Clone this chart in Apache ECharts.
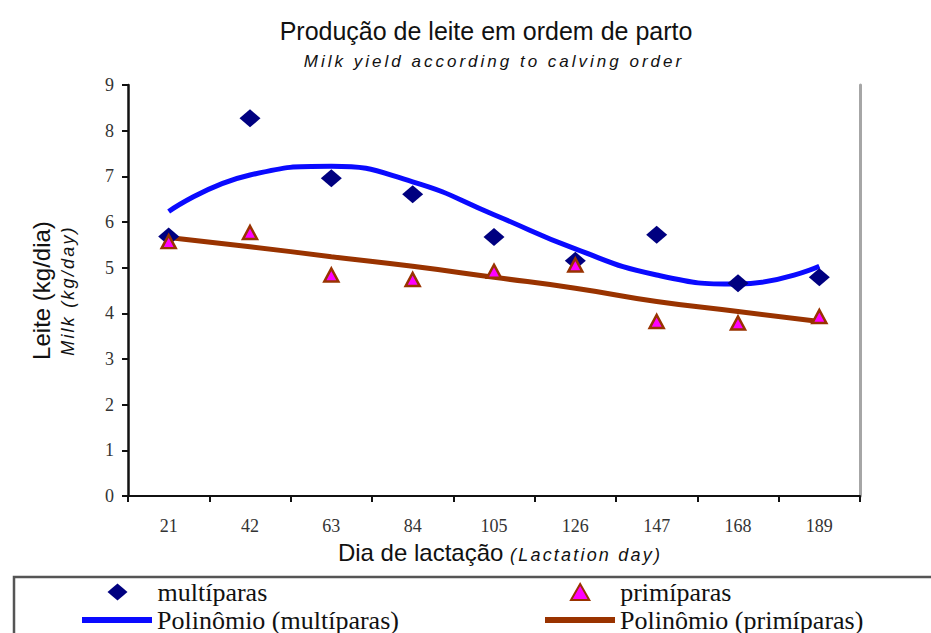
<!DOCTYPE html>
<html>
<head>
<meta charset="utf-8">
<script src="https://cdn.jsdelivr.net/npm/echarts@6/dist/echarts.min.js"></script>
<style>
  html, body { margin: 0; padding: 0; background: #fff; }
  #chart { width: 931px; height: 633px; }
  /* the italic English texts are letter-spaced in the original */
  #chart text[style*="italic"] { letter-spacing: 2.2px; }
  #chart text[style*="italic"][style*="17px"] { letter-spacing: 3px; }
</style>
</head>
<body>
<div id="chart"></div>
<script>
// Dia de lactação
const days = ['21', '42', '63', '84', '105', '126', '147', '168', '189'];
// Leite (kg/dia)
const multiparas = [5.68, 8.27, 6.96, 6.61, 5.67, 5.15, 5.72, 4.66, 4.79];
const primiparas = [5.57, 5.77, 4.84, 4.74, 4.92, 5.06, 3.82, 3.79, 3.93];
// linhas de tendência
const polyMulti = [6.23, 7.03, 7.22, 6.88, 6.16, 5.41, 4.84, 4.64, 5.03];
const polyPrim = [5.66, 5.46, 5.24, 5.03, 4.79, 4.55, 4.26, 4.04, 3.82];

const sans = "'Liberation Sans', Arial, sans-serif";
const serif = "'Liberation Serif', 'Times New Roman', serif";

const chart = echarts.init(document.getElementById('chart'), null, { renderer: 'svg' });

// one legend per entry so each can sit where the original puts it
function legendItem(name, icon, left, top, itemHeight) {
  return {
    left: left,
    top: top,
    padding: 0,
    itemWidth: 70,
    itemHeight: itemHeight,
    selectedMode: false,
    data: [{ name: name, icon: icon }],
    textStyle: { fontFamily: serif, fontSize: 26, color: '#111' },
  };
}

chart.setOption({
  animation: false,
  backgroundColor: '#fff',
  title: [
    {
      text: 'Produção de leite em ordem de parto',
      left: 486,
      top: 18,
      textAlign: 'center',
      padding: 0,
      textStyle: { fontFamily: sans, fontSize: 25, fontWeight: 'normal', color: '#111' },
    },
    {
      text: 'Milk yield according to calving order',
      left: 494,
      top: 53,
      textAlign: 'center',
      padding: 0,
      textStyle: { fontFamily: sans, fontSize: 17, fontStyle: 'italic', fontWeight: 'normal', color: '#111' },
    },
  ],
  grid: {
    left: 128,
    right: 71,
    top: 85,
    bottom: 137,
  },
  xAxis: {
    type: 'category',
    data: days,
    boundaryGap: true,
    name: '{a|Dia de lactação }{b|(Lactation day)}',
    nameLocation: 'middle',
    nameGap: 40,
    nameTextStyle: {
      padding: [0, 21, 0, 0],
      rich: {
        a: { fontFamily: sans, fontSize: 24, color: '#111', lineHeight: 28, verticalAlign: 'bottom', align: 'left' },
        b: { fontFamily: sans, fontSize: 18, fontStyle: 'italic', color: '#111', lineHeight: 28, verticalAlign: 'bottom', align: 'left' },
      },
    },
    axisLine: { lineStyle: { color: '#111', width: 2 } },
    axisTick: { show: true, length: 6, lineStyle: { color: '#111', width: 2 } },
    axisLabel: { fontFamily: serif, fontSize: 18, color: '#333', margin: 21 },
    splitLine: { show: false },
  },
  yAxis: [
    {
      type: 'value',
      min: 0,
      max: 9,
      interval: 1,
      name: '{a|Leite (kg/dia)}\n{b|Milk (kg/day)}',
      nameLocation: 'middle',
      nameRotate: 90,
      nameGap: 50,
      nameTextStyle: {
        rich: {
          a: { fontFamily: sans, fontSize: 24, color: '#111', lineHeight: 34 },
          b: { fontFamily: sans, fontSize: 18, fontStyle: 'italic', color: '#111', lineHeight: 20 },
        },
      },
      axisLine: { show: true, lineStyle: { color: '#111', width: 2.5 } },
      axisTick: { show: true, length: 6, lineStyle: { color: '#111', width: 2 } },
      axisLabel: { fontFamily: serif, fontSize: 18, color: '#333', margin: 14 },
      splitLine: { show: false },
    },
    {
      type: 'value',
      min: 0,
      max: 9,
      interval: 1,
      position: 'right',
      axisLine: { show: true, lineStyle: { color: '#a6a6a6', width: 3 } },
      axisTick: { show: false },
      axisLabel: { show: false },
      splitLine: { show: false },
    },
  ],
  legend: [
    legendItem('multíparas', 'path://M10,0L20,8.5L10,17L0,8.5Z', 107.5, 579, 17),
    legendItem('Polinômio (multíparas)', 'rect', 82, 607, 6),
    legendItem('primíparas', 'path://M8,0L16,14L0,14Z', 570, 579, 16),
    legendItem('Polinômio (primíparas)', 'rect', 545, 607, 6),
  ],
  graphic: [
    {
      type: 'rect',
      shape: { x: 14, y: 577, width: 940, height: 80 },
      style: { fill: 'none', stroke: '#555', lineWidth: 2.5 },
      silent: true,
    },
  ],
  series: [
    {
      name: 'Polinômio (multíparas)',
      type: 'line',
      data: polyMulti,
      smooth: true,
      symbol: 'none',
      lineStyle: { color: '#0a0aff', width: 5 },
      itemStyle: { color: '#0a0aff' },
      z: 2,
    },
    {
      name: 'Polinômio (primíparas)',
      type: 'line',
      data: polyPrim,
      smooth: true,
      symbol: 'none',
      lineStyle: { color: '#993300', width: 5 },
      itemStyle: { color: '#993300' },
      z: 2,
    },
    {
      name: 'multíparas',
      type: 'scatter',
      data: multiparas,
      symbol: 'diamond',
      symbolSize: [21, 18],
      itemStyle: { color: '#000080', opacity: 1 },
      z: 3,
    },
    {
      name: 'primíparas',
      type: 'scatter',
      data: primiparas,
      symbol: 'triangle',
      symbolSize: [14, 13],
      itemStyle: { color: '#ff00ff', borderColor: '#993300', borderWidth: 2.5, opacity: 1 },
      z: 4,
    },
  ],
});
</script>
</body>
</html>
